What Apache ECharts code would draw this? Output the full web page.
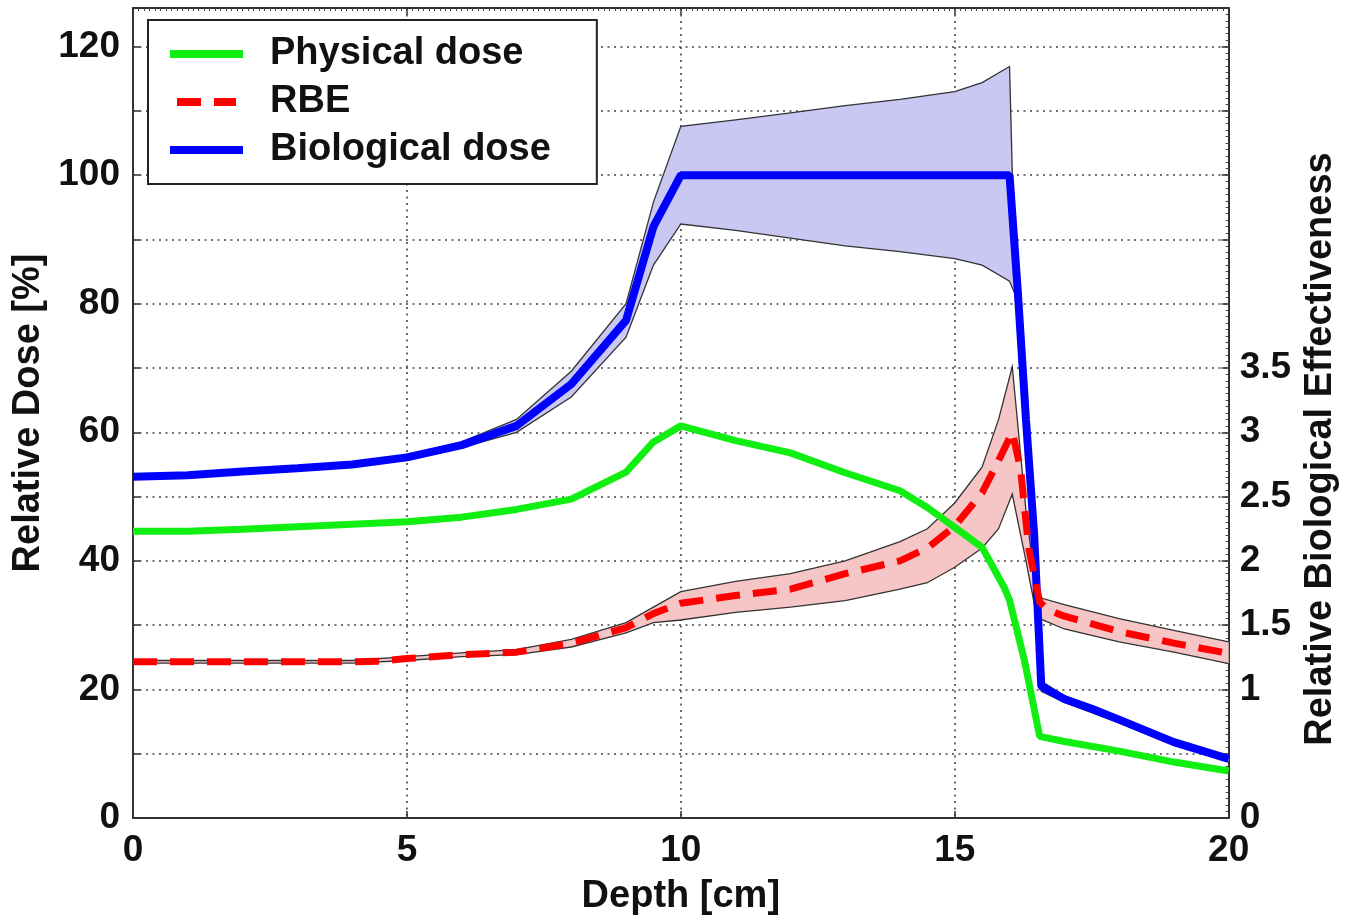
<!DOCTYPE html>
<html>
<head>
<meta charset="utf-8">
<script src="https://cdn.jsdelivr.net/npm/echarts@6/dist/echarts.min.js"></script>
<style>
html,body{margin:0;padding:0;background:#fff;}
#chart{width:1348px;height:921px;}
</style>
</head>
<body>
<div id="chart"></div>
<script>
// ---- Data ----
const depthPhys = [0,1,2,3,4,5,6,7,8,9,9.5,10,11,12,13,14,14.5,15,15.5,15.9,16,16.27,16.55,17,18,19,20];
const physDose  = [44.6,44.6,44.9,45.3,45.7,46.1,46.8,48.0,49.6,53.8,58.5,61.0,58.7,56.8,53.7,50.9,48.3,45.2,42.1,35.9,33.9,24.6,12.7,11.9,10.4,8.7,7.3];

const depthBio = [0,1,2,3,4,5,6,7,8,9,9.5,10,16,16.15,16.3,16.45,16.58,17,17.5,18,19,20];
const bioDose  = [53.1,53.3,53.9,54.4,55.0,56.1,58.0,61.0,67.5,77.4,92.0,100,100,82,62,44,20.5,18.5,17.0,15.3,11.8,9.2];

const depthBioBand = [0,1,2,3,4,5,6,7,8,9,9.5,10,11,12,13,14,15,15.5,16,16.1,16.3,16.45,16.58,17,18,19,20];
const bioUpper = [53.4,53.6,54.2,54.7,55.3,56.4,58.5,62.0,69.5,80.0,95.8,107.6,108.6,109.7,110.8,111.8,113.0,114.4,116.9,84.0,63.5,45.5,21.3,19.0,15.6,12.0,9.6];
const bioLower = [52.8,53.0,53.6,54.1,54.7,55.8,57.6,60.0,65.5,74.8,86.0,92.4,91.4,90.2,89.0,88.1,87.0,86.0,83.5,81.5,60.5,42.5,19.7,18.0,14.8,11.3,8.8];

const depthRbe = [0,1,2,3,4,4.5,5,6,7,8,9,9.5,10,11,12,13,14,14.5,15,15.5,15.8,16.05,16.2,16.35,16.55,16.7,17,18,19,20];
const rbe      = [1.215,1.215,1.215,1.215,1.215,1.22,1.24,1.27,1.29,1.36,1.48,1.59,1.67,1.73,1.78,1.90,2.00,2.10,2.27,2.53,2.78,3.0,2.72,2.1,1.68,1.62,1.57,1.45,1.36,1.28];

const depthRbeBand = [0,4,5,6,7,8,9,9.5,10,11,12,13,14,14.5,15,15.5,15.8,16.05,16.3,16.5,17,18,19,20];
const rbeUpper = [1.225,1.225,1.255,1.285,1.31,1.39,1.52,1.64,1.76,1.84,1.90,2.00,2.15,2.25,2.45,2.73,3.10,3.51,2.39,1.72,1.66,1.55,1.46,1.37];
const rbeLower = [1.205,1.205,1.225,1.255,1.27,1.33,1.44,1.52,1.54,1.60,1.64,1.69,1.78,1.83,1.95,2.10,2.25,2.52,2.00,1.56,1.47,1.37,1.29,1.20];

const leftLabels  = [0,20,40,60,80,100,120];
const rightLabels = [0,1,1.5,2,2.5,3,3.5];

// ---- helpers ----
const zip = (xs, ys) => xs.map((x, i) => [x, ys[i]]);

const FONT = '"Liberation Sans", Arial, Helvetica, sans-serif';
const txt = {fontFamily: FONT, fontWeight: 'bold', color: '#111'};
const gridLine = {show: true, lineStyle: {color: '#444', width: 1.6, type: [2, 4.5]}};

// band drawn through the axes' scales (api.coord)
function bandSeries(xs, up, lo, fill, yAxisIndex) {
  return {
    type: 'custom', coordinateSystem: 'cartesian2d', yAxisIndex: yAxisIndex,
    silent: true, z: 1, clip: true, data: [0],
    renderItem: function (params, api) {
      const top = xs.map((x, i) => api.coord([x, up[i]]));
      const bot = xs.map((x, i) => api.coord([x, lo[i]]));
      return {
        type: 'group',
        children: [
          {type: 'polygon', shape: {points: top.concat(bot.slice().reverse())},
           style: {fill: fill, stroke: null}},
          {type: 'polyline', shape: {points: top}, style: {fill: null, stroke: '#333', lineWidth: 1.3}},
          {type: 'polyline', shape: {points: bot}, style: {fill: null, stroke: '#333', lineWidth: 1.3}}
        ]
      };
    }
  };
}

const chart = echarts.init(document.getElementById('chart'));
chart.setOption({
  animation: false,
  backgroundColor: '#fff',
  grid: {left: 133, right: 116, top: 8, bottom: 99, containLabel: false},
  legend: {
    orient: 'vertical', left: 148, top: 20,
    backgroundColor: '#fff', borderColor: '#222', borderWidth: 2,
    padding: [14, 46, 14, 22],
    itemWidth: 73, itemHeight: 8, itemGap: 8,
    textStyle: Object.assign({fontSize: 38, lineHeight: 40, padding: [0, 0, 0, 22]}, txt),
    data: [
      {name: 'Physical dose', icon: 'path://M0,0H73V8H0Z', itemStyle: {color: '#11ee11'}},
      {name: 'RBE', icon: 'path://M0,0H24V8H0Z M37,0H59V8H37Z', itemStyle: {color: '#ff0000'}},
      {name: 'Biological dose', icon: 'path://M0,0H73V8H0Z', itemStyle: {color: '#0000ff'}}
    ]
  },
  xAxis: [{
    type: 'value', min: 0, max: 20, interval: 5,
    name: 'Depth [cm]', nameLocation: 'middle', nameGap: 60,
    nameTextStyle: Object.assign({fontSize: 38}, txt),
    axisLine: {show: true, onZero: false, lineStyle: {color: '#333', width: 2}},
    axisTick: {show: true, inside: true, length: 7, lineStyle: {color: '#333', width: 1.5}},
    axisLabel: Object.assign({fontSize: 37, margin: 14}, txt),
    splitLine: gridLine
  }, {
    type: 'value', min: 0, max: 20, interval: 5, position: 'top',
    axisLine: {show: true, onZero: false, lineStyle: {color: '#333', width: 2}},
    axisTick: {show: true, inside: true, length: 7, lineStyle: {color: '#333', width: 1.5}},
    minorTick: {show: true, splitNumber: 50, length: 3, lineStyle: {color: '#444', width: 1}},
    axisLabel: {show: false},
    splitLine: {show: false}
  }],
  yAxis: [{
    type: 'value', min: 0, max: 126, interval: 10,
    name: 'Relative Dose [%]', nameLocation: 'middle', nameGap: 80,
    nameTextStyle: Object.assign({fontSize: 38}, txt),
    axisLine: {show: true, onZero: false, lineStyle: {color: '#333', width: 2}},
    axisTick: {show: true, inside: true, length: 7, lineStyle: {color: '#333', width: 1.5}},
    axisLabel: Object.assign({
      fontSize: 37, margin: 13,
      formatter: v => leftLabels.indexOf(v) >= 0 ? String(v) : ''
    }, txt),
    splitLine: gridLine
  }, {
    type: 'value', min: 0, max: 6.3, interval: 0.5, position: 'right',
    name: 'Relative Biological Effectiveness', nameLocation: 'middle', nameGap: 72,
    nameTextStyle: Object.assign({fontSize: 38, padding: [0, 72, 0, 0]}, txt),
    axisLine: {show: true, onZero: false, lineStyle: {color: '#333', width: 2}},
    axisTick: {show: true, inside: true, length: 7, lineStyle: {color: '#333', width: 1.5}},
    minorTick: {show: true, splitNumber: 10, length: 3, lineStyle: {color: '#444', width: 1}},
    axisLabel: Object.assign({
      fontSize: 37, margin: 11,
      formatter: v => rightLabels.indexOf(v) >= 0 ? String(v) : ''
    }, txt),
    splitLine: {show: false}
  }],
  series: [
    bandSeries(depthBioBand, bioUpper, bioLower, '#c8c8f2', 0),
    bandSeries(depthRbeBand, rbeUpper, rbeLower, '#f6c6c6', 1),
    {name: 'Biological dose', type: 'line', symbol: 'none', z: 3,
     data: zip(depthBio, bioDose), lineStyle: {color: '#0000ff', width: 8}, itemStyle: {color: '#0000ff'}},
    {name: 'Physical dose', type: 'line', symbol: 'none', z: 4,
     data: zip(depthPhys, physDose), lineStyle: {color: '#11ee11', width: 7}, itemStyle: {color: '#11ee11'}},
    {name: 'RBE', type: 'line', symbol: 'none', z: 5, yAxisIndex: 1,
     data: zip(depthRbe, rbe), lineStyle: {color: '#ff0000', width: 7, type: [24, 13]}, itemStyle: {color: '#ff0000'}}
  ]
});
</script>
</body>
</html>
